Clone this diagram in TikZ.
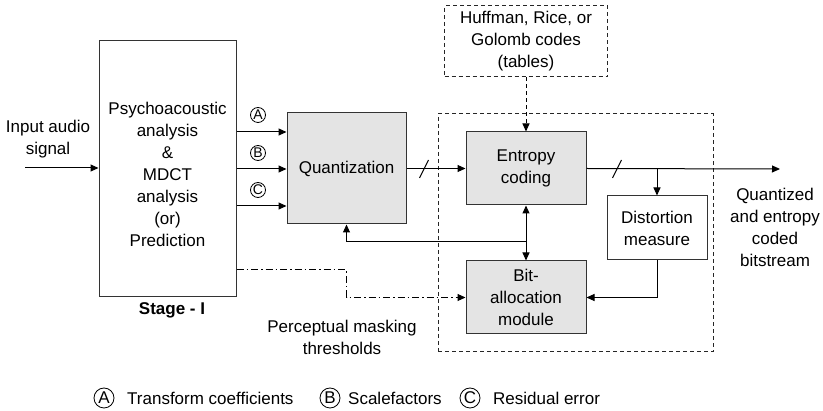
\documentclass[tikz,border=0pt]{standalone}
\usepackage{fontspec}
\setmainfont{Liberation Sans}
\usepackage{xcolor}
\usepackage{tikz}
\usetikzlibrary{arrows.meta,positioning,calc}

\definecolor{boxgray}{HTML}{E4E4E4}

\begin{document}
\begin{tikzpicture}[
   x=1pt, y=-1pt,
   font=\fontsize{17}{22}\selectfont,
   block/.style={rectangle, draw=black!80, line width=1pt, align=center,
                 fill=boxgray, inner sep=0pt},
   wbox/.style={block, fill=white},
   dbox/.style={rectangle, draw=black!85, line width=1pt, dash pattern=on 4pt off 3pt},
   circ/.style={circle, draw, line width=0.8pt, inner sep=0pt, minimum size=15pt,
                font=\fontsize{14}{14}\selectfont},
   keycirc/.style={circ, minimum size=20pt, font=\fontsize{17}{17}\selectfont},
   arr/.style={-{Triangle[length=8pt,width=7pt]}, line width=1pt},
   darr/.style={{Triangle[length=8pt,width=7pt]}-{Triangle[length=8pt,width=7pt]}, line width=1pt},
   dashdot/.style={dash pattern=on 7pt off 3pt on 1.5pt off 3pt},
   slash/.style={line width=1pt}
]
\useasboundingbox (0,0) rectangle (823,411);

% Stage I
\node[wbox, minimum width=137pt, minimum height=256pt] (stage) at (167.5,169) {};
\node[align=center] (stagetxt) at ($(stage.center)+(0,5)$)
     {Psychoacoustic\\analysis\\\&\\MDCT\\analysis\\(or)\\Prediction};
\node[font=\fontsize{17}{22}\selectfont\bfseries] (stagelbl) at (172,310) {Stage - I};
\node[align=center] (intxt) at (48,139.5) {Input audio\\signal};
\coordinate (in) at (25,168);

% Quantizer and coder
\node[block, minimum width=119pt, minimum height=111pt] (quant) at (346.5,168.5) {Quantization};
\node[dbox, minimum width=275pt, minimum height=238pt] (enc) at (575.5,233) {};
\node[block, minimum width=120pt, minimum height=73pt] (entropy) at (526,168.5) {Entropy\\coding};
\node[block, minimum width=120pt, minimum height=73pt] (bitalloc) at (526,297.5) {Bit-\\allocation\\module};
\node[wbox, minimum width=100pt, minimum height=64pt] (distort) at (657,228) {Distortion\\measure};
\node[dbox, align=center, minimum width=163pt, minimum height=71pt] (huff) at (526,41.5)
     {Huffman, Rice, or\\Golomb codes\\(tables)};
\coordinate (out) at (780,169);
\node[align=center] (outtxt) at (775,227) {Quantized\\and entropy\\coded\\bitstream};
\node[align=center] (perc) at (342,337.5) {Perceptual masking\\thresholds};

% Stage I outputs
\node[circ] (la) at (258,115) {A};
\node[circ] (lb) at (258,153) {B};
\node[circ] (lc) at (258,190) {C};

% Connectors
\draw[arr] (in) -- (in -| stage.west);
\draw[arr] (stage.east |- 0,132) -- (quant.west |- 0,132);
\draw[arr] (stage.east |- 0,169) -- (quant.west |- 0,169);
\draw[arr] (stage.east |- 0,206) -- (quant.west |- 0,206);
\draw[arr] (quant.east) -- (entropy.west);
\draw[arr] (entropy.east) -- (out);
\draw[arr] (distort.north |- entropy.east) -- (distort.north);
\draw[arr] (distort.south) |- (bitalloc.east);
\draw[darr] (entropy.south) -- (bitalloc.north);
\draw[arr] (entropy.south |- 0,242) -| (quant.south);
\draw[arr, dash pattern=on 4pt off 3pt] (huff.south) -- (entropy.north);
\draw[arr, dashdot] (stage.east |- 0,270) -| (quant.south |- bitalloc.west) -- (bitalloc.west);
\draw[slash] (419.5,178) -- (428.5,160);
\draw[slash] (612.5,178) -- (621.5,160);

% Legend
\node[keycirc] (ka) at (104,398) {A};
\node[anchor=west, inner sep=0pt] (kat) at (127,398) {Transform coefficients};
\node[keycirc] (kb) at (330,398) {B};
\node[anchor=west, inner sep=0pt] (kbt) at (348,398) {Scalefactors};
\node[keycirc] (kc) at (470,398) {C};
\node[anchor=west, inner sep=0pt] (kct) at (493,398) {Residual error};
\end{tikzpicture}
\end{document}
